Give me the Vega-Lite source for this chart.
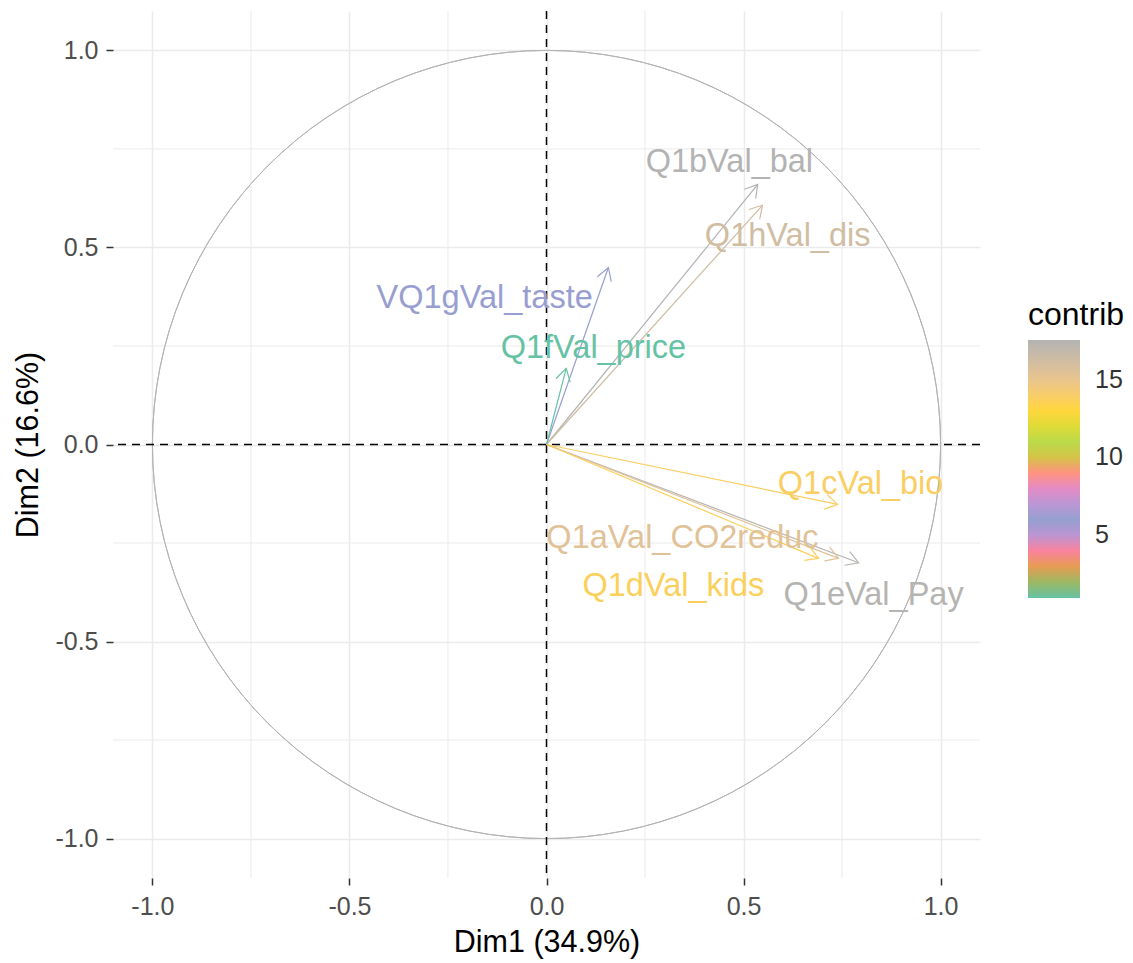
{
  "$schema": "https://vega.github.io/schema/vega-lite/v6.json",
  "width": 867,
  "height": 867,
  "autosize": {"type": "none"},
  "padding": {"left": 113, "top": 11, "right": 153, "bottom": 85},
  "background": "white",
  "config": {
    "view": {"stroke": null},
    "font": "Liberation Sans"
  },
  "datasets": {
    "vars": [
      {"name": "Q1bVal_bal", "x": 0.536, "y": 0.660, "contrib": 17.55, "lx": 0.464, "ly": 0.718},
      {"name": "Q1hVal_dis", "x": 0.548, "y": 0.607, "contrib": 16.2, "lx": 0.612, "ly": 0.528},
      {"name": "VQ1gVal_taste", "x": 0.157, "y": 0.449, "contrib": 5.49, "lx": -0.157, "ly": 0.371},
      {"name": "Q1fVal_price", "x": 0.050, "y": 0.193, "contrib": 0.96, "lx": 0.119, "ly": 0.244},
      {"name": "Q1cVal_bio", "x": 0.739, "y": -0.152, "contrib": 13.8, "lx": 0.797, "ly": -0.099},
      {"name": "Q1eVal_Pay", "x": 0.792, "y": -0.300, "contrib": 17.4, "lx": 0.830, "ly": -0.381},
      {"name": "Q1aVal_CO2reduc", "x": 0.741, "y": -0.289, "contrib": 15.4, "lx": 0.345, "ly": -0.236},
      {"name": "Q1dVal_kids", "x": 0.690, "y": -0.289, "contrib": 13.6, "lx": 0.322, "ly": -0.358}
    ],
    "origin": [{"x": 0, "y": 0}],
    "minor": [{"v": -0.75}, {"v": -0.25}, {"v": 0.25}, {"v": 0.75}]
  },
  "layer": [
    {
      "data": {"name": "origin"},
      "mark": {"type": "point", "shape": "circle", "filled": false, "size": 621259, "stroke": "#B3B3B3", "strokeWidth": 1, "opacity": 1},
      "encoding": {
        "x": {
          "field": "x", "type": "quantitative",
          "scale": {"domain": [-1.1, 1.1], "nice": false, "zero": false},
          "axis": {
            "title": "Dim1 (34.9%)",
            "values": [-1, -0.5, 0, 0.5, 1],
            "labelExpr": "replace(format(datum.value, '.1f'), '\u2212', '-')",
            "domain": false,
            "grid": true,
            "gridColor": "#EBEBEB",
            "gridWidth": 1.5,
            "tickSize": 7,
            "tickWidth": 1.5,
            "tickColor": "#333333",
            "labelFontSize": 25,
            "labelColor": "#4D4D4D",
            "labelPadding": 9,
            "labelFont": "Liberation Sans",
            "titleFont": "Liberation Sans",
            "titleFontSize": 30.5,
            "titleFontWeight": "normal",
            "titleColor": "#000000",
            "titlePadding": 8
          }
        },
        "y": {
          "field": "y", "type": "quantitative",
          "scale": {"domain": [-1.1, 1.1], "nice": false, "zero": false},
          "axis": {
            "title": "Dim2 (16.6%)",
            "values": [-1, -0.5, 0, 0.5, 1],
            "labelExpr": "replace(format(datum.value, '.1f'), '\u2212', '-')",
            "domain": false,
            "grid": true,
            "gridColor": "#EBEBEB",
            "gridWidth": 1.5,
            "tickSize": 7,
            "tickWidth": 1.5,
            "tickColor": "#333333",
            "labelFontSize": 25,
            "labelColor": "#4D4D4D",
            "labelPadding": 8,
            "labelFont": "Liberation Sans",
            "titleFont": "Liberation Sans",
            "titleFontSize": 30.5,
            "titleFontWeight": "normal",
            "titleColor": "#000000",
            "titlePadding": 11
          }
        }
      }
    },
    {
      "data": {"name": "minor"},
      "mark": {"type": "rule", "color": "#EBEBEB", "strokeWidth": 1},
      "encoding": {"x": {"field": "v", "type": "quantitative"}}
    },
    {
      "data": {"name": "minor"},
      "mark": {"type": "rule", "color": "#EBEBEB", "strokeWidth": 1},
      "encoding": {"y": {"field": "v", "type": "quantitative"}}
    },
    {
      "data": {"name": "origin"},
      "mark": {"type": "point", "shape": "circle", "filled": false, "size": 621259, "stroke": "#B3B3B3", "strokeWidth": 1, "opacity": 1},
      "encoding": {
        "x": {"field": "x", "type": "quantitative"},
        "y": {"field": "y", "type": "quantitative"}
      }
    },
    {
      "data": {"name": "origin"},
      "mark": {"type": "rule", "color": "#000000", "strokeWidth": 1.5, "strokeDash": [8, 6]},
      "encoding": {"x": {"field": "x", "type": "quantitative"}}
    },
    {
      "data": {"name": "origin"},
      "mark": {"type": "rule", "color": "#000000", "strokeWidth": 1.5, "strokeDash": [8, 6]},
      "encoding": {"y": {"field": "y", "type": "quantitative"}}
    },
    {
      "data": {"name": "vars"},
      "mark": {"type": "rule", "strokeWidth": 1.2},
      "encoding": {
        "x": {"field": "x", "type": "quantitative"},
        "y": {"field": "y", "type": "quantitative"},
        "x2": {"datum": 0},
        "y2": {"datum": 0},
        "stroke": {
          "field": "contrib", "type": "quantitative",
          "scale": {
            "type": "linear",
            "domain": [0.959, 3.331, 5.701, 8.071, 10.441, 12.811, 15.181, 17.551],
            "range": ["#66C2A5", "#FC8D62", "#8DA0CB", "#E78AC3", "#A6D854", "#FFD92F", "#E5C494", "#B3B3B3"]
          },
          "legend": null
        }
      }
    },
    {
      "data": {"name": "vars"},
      "transform": [{"calculate": "-atan2(datum.y, datum.x) * 180 / PI", "as": "angle"}],
      "mark": {"type": "point", "shape": "M-1,-0.6L0,0L-1,0.6", "filled": false, "size": 600, "strokeWidth": 1.2, "opacity": 1},
      "encoding": {
        "x": {"field": "x", "type": "quantitative"},
        "y": {"field": "y", "type": "quantitative"},
        "angle": {"field": "angle", "type": "quantitative", "scale": null},
        "stroke": {"field": "contrib", "type": "quantitative", "legend": null}
      }
    },
    {
      "data": {"name": "vars"},
      "mark": {"type": "text", "fontSize": 32.5, "font": "Liberation Sans", "align": "center", "baseline": "middle"},
      "encoding": {
        "x": {"field": "lx", "type": "quantitative"},
        "y": {"field": "ly", "type": "quantitative"},
        "text": {"field": "name"},
        "color": {
          "field": "contrib", "type": "quantitative",
          "scale": {
            "type": "linear",
            "domain": [0.96, 3.33, 5.70, 8.07, 10.44, 12.81, 15.18, 17.55],
            "range": ["#66C2A5", "#FC8D62", "#8DA0CB", "#E78AC3", "#A6D854", "#FFD92F", "#E5C494", "#B3B3B3"]
          },
          "legend": {
            "type": "gradient",
            "title": "contrib",
            "values": [5, 10, 15],
            "orient": "none",
            "legendX": 915,
            "legendY": 289,
            "direction": "vertical",
            "gradientLength": 258,
            "gradientThickness": 52,
            "gradientStrokeWidth": 0,
            "titleFontSize": 32,
            "titleFontWeight": "normal",
            "titleColor": "#000000",
            "titleFont": "Liberation Sans",
            "titlePadding": 8,
            "labelFontSize": 25,
            "labelColor": "#333333",
            "labelFont": "Liberation Sans",
            "labelOffset": 15
          }
        }
      }
    }
  ]
}
